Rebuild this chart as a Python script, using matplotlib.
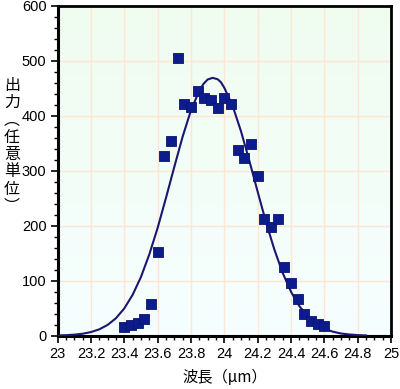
import numpy as np
import matplotlib
matplotlib.use("Agg")
import matplotlib.pyplot as plt
from matplotlib.colors import LinearSegmentedColormap
from matplotlib.ticker import MultipleLocator

plt.rcParams['font.family'] = ['Liberation Sans', 'Noto Sans CJK JP', 'DejaVu Sans']

# measured data points
meas_x = [23.40, 23.44, 23.48, 23.52, 23.56, 23.60, 23.64, 23.68, 23.72, 23.76,
          23.80, 23.84, 23.88, 23.92, 23.96, 24.00, 24.04, 24.08, 24.12, 24.16,
          24.20, 24.24, 24.28, 24.32, 24.36, 24.40, 24.44, 24.48, 24.52, 24.56, 24.60]
meas_y = [15, 19, 23, 30, 57, 152, 327, 354, 505, 421,
          416, 446, 432, 428, 415, 432, 421, 338, 324, 348,
          290, 212, 197, 213, 125, 96, 67, 40, 27, 21, 18]

# fitted curve
curve_x = [23.00, 23.05, 23.10, 23.15, 23.20, 23.25, 23.30, 23.35, 23.40, 23.45,
           23.50, 23.55, 23.60, 23.65, 23.70, 23.75, 23.80, 23.85, 23.875, 23.90,
           23.93, 23.96, 23.98, 24.00, 24.05, 24.10, 24.15, 24.20, 24.25, 24.30,
           24.35, 24.40, 24.45, 24.50, 24.55, 24.60, 24.65, 24.70, 24.75, 24.80, 24.85]
curve_y = [0.5, 1.0, 1.9, 3.6, 6.6, 11.6, 19.6, 31.8, 49.6, 74.3,
           106.8, 147.8, 196, 250.5, 307, 362, 410, 445.6, 458, 466,
           469, 466.5, 461, 451, 418, 372, 318.5, 262, 206.8, 157,
           114.4, 80, 53.9, 35, 21.7, 13, 7.4, 4, 2.2, 1.1, 0.5]

x_ticks = [23, 23.2, 23.4, 23.6, 23.8, 24, 24.2, 24.4, 24.6, 24.8, 25]
x_labels = ['23', '23.2', '23.4', '23.6', '23.8', '24', '24.2', '24.4', '24.6', '24.8', '25']
y_ticks = [0, 100, 200, 300, 400, 500, 600]

fig = plt.figure(figsize=(4.0, 3.89), dpi=100)
ax = fig.add_axes([0.144, 0.137, 0.8335, 0.848])

# background gradient
cmap = LinearSegmentedColormap.from_list('bg', [(0.965, 0.998, 1.0), (0.94, 0.99, 0.94)])
grad = np.linspace(0, 1, 256).reshape(-1, 1)
ax.imshow(grad, aspect='auto', cmap=cmap, origin='lower',
          extent=[23, 25, 0, 600], zorder=0)

ax.set_xlim(23, 25)
ax.set_ylim(0, 600)
ax.set_xticks(x_ticks)
ax.set_xticklabels(x_labels)
ax.set_yticks(y_ticks)
ax.xaxis.set_minor_locator(MultipleLocator(0.05))
ax.yaxis.set_minor_locator(MultipleLocator(20))
ax.grid(True, which='major', color='#ffe6d2', linewidth=1.0, zorder=1)

ax.plot(curve_x, curve_y, color='#1c1670', linewidth=1.5, zorder=3)
ax.scatter(meas_x, meas_y, marker='s', s=55, color='#0c1c8c',
           edgecolors='#0a1470', linewidths=0.6, zorder=4)

for side, lw in [('left', 2.2), ('bottom', 2.2), ('top', 2.0), ('right', 2.0)]:
    ax.spines[side].set_linewidth(lw)
    ax.spines[side].set_color('black')

ax.tick_params(axis='both', which='major', direction='out', length=5, width=1.2,
               labelsize=10.5, colors='black', pad=3)
ax.tick_params(axis='both', which='minor', direction='out', length=3, width=1.0)
ax.tick_params(axis='x', which='both', top=False)
ax.tick_params(axis='y', which='both', right=False)

ax.set_xlabel('波長（µm）', fontsize=11, labelpad=6,
              family=['Noto Sans CJK JP', 'DejaVu Sans'])

fig.text(0.03, 0.625, '出\n力\n︵\n任\n意\n単\n位\n︶', ha='center', va='center',
         fontsize=11.5, linespacing=1.02, family=['Noto Sans CJK JP', 'DejaVu Sans'])

fig.savefig('out.png', dpi=100)
